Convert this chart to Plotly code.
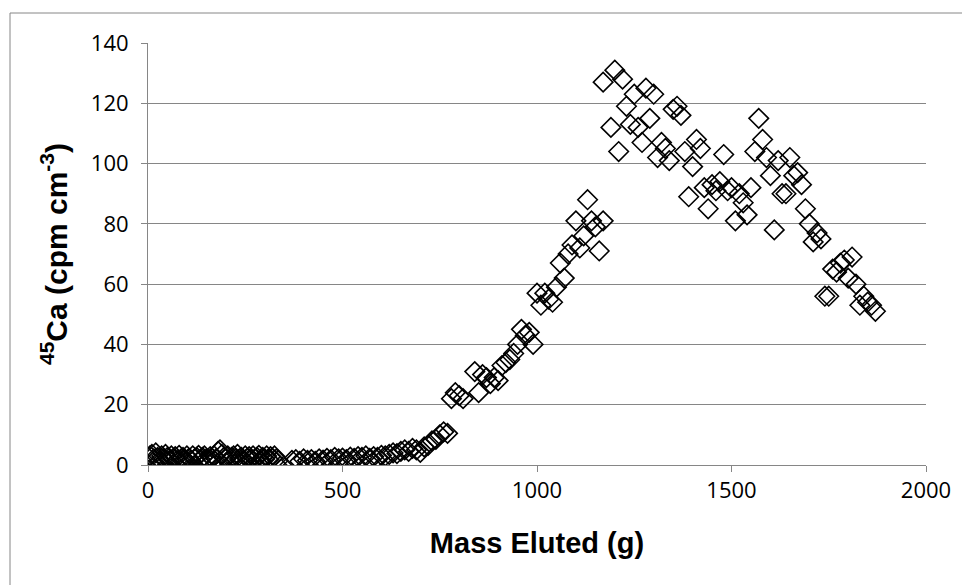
import plotly.graph_objects as go

# Mass eluted (g)
mass_low = [0, 5, 10, 15, 20, 25, 30, 35, 40, 45, 50, 55, 60, 65, 70, 75, 80, 85, 90, 95,
            100, 105, 110, 115, 120, 125, 130, 135, 140, 145, 150, 155, 160, 165, 170, 175,
            180, 185, 190, 195, 200, 205, 210, 215, 220, 225, 230, 235, 240, 245, 250, 255,
            260, 265, 270, 275, 280, 285, 290, 295, 300, 305, 310, 315, 320, 325, 330, 335]
ca_low = [2.5, 3.0, 3.5, 2.0, 4.0, 2.5, 1.5, 3.0, 2.0, 3.5, 2.5, 1.5, 3.0, 2.0, 2.8, 1.5, 3.2, 2.0, 2.5, 1.8,
          3.0, 2.2, 1.5, 3.0, 2.0, 2.5, 3.2, 1.8, 2.5, 3.0, 2.0, 1.5, 2.8, 2.2, 3.0, 2.0,
          4.5, 5.0, 3.5, 2.5, 2.0, 3.0, 1.5, 2.5, 3.0, 2.0, 3.5, 2.0, 2.5, 1.5, 3.0, 2.2,
          2.8, 1.8, 3.0, 2.0, 2.5, 3.2, 1.5, 2.5, 2.0, 3.0, 1.8, 2.8, 2.2, 3.0, 2.0, 1.5]

mass_mid = [370, 380, 390, 400, 410, 420, 430, 440, 450, 460, 470, 480, 490, 500, 510, 520,
            530, 540, 550, 560, 570, 580, 590, 600, 610, 620, 630, 640, 650, 660, 670, 680,
            690, 700, 710, 720, 730, 740, 750, 760, 770]
ca_mid = [1.5, 1.8, 1.2, 2.0, 1.5, 1.8, 1.2, 2.0, 1.6, 2.2, 1.8, 2.5, 2.0, 2.3, 1.8, 2.6,
          2.2, 2.8, 2.5, 3.0, 2.2, 2.8, 2.5, 3.2, 3.0, 3.5, 4.0, 3.8, 4.5, 5.0, 4.5, 5.5,
          5.0, 4.2, 6.0, 6.5, 8.0, 8.5, 10.0, 11.0, 10.5]

mass_rise = [780, 790, 800, 810, 840, 850, 860, 870, 880, 890, 900, 910, 920, 930, 940, 950,
             960, 970, 980, 990, 1000, 1010, 1020, 1030, 1040, 1050, 1060, 1070, 1080, 1090,
             1100, 1110, 1120, 1130, 1140, 1150, 1160, 1170]
ca_rise = [22, 24, 23, 22, 31, 24, 30, 29, 27, 29, 28, 33, 34, 35, 37, 40,
           45, 43, 44, 40, 57, 53, 57, 55, 54, 59, 67, 62, 70, 73,
           81, 72, 76, 88, 81, 79, 71, 81]

mass_peak = [1170, 1190, 1200, 1210, 1220, 1230, 1240, 1250, 1260, 1270, 1280, 1290, 1300,
             1310, 1320, 1330, 1340, 1350, 1360, 1370, 1380, 1390, 1400, 1410, 1420, 1430,
             1440, 1450, 1460, 1470, 1480, 1490, 1500, 1510, 1520, 1530, 1540, 1550, 1560,
             1570, 1580, 1590, 1600, 1610, 1620, 1630, 1640, 1650, 1660, 1670, 1680, 1690,
             1700, 1710, 1720, 1730, 1740, 1750, 1760, 1770, 1780, 1790, 1800, 1810, 1820,
             1830, 1840, 1850, 1860, 1870]
ca_peak = [127, 112, 131, 104, 128, 119, 113, 123, 112, 107, 125, 115, 123,
           102, 107, 105, 101, 118, 119, 116, 104, 89, 99, 108, 105, 92,
           85, 93, 91, 94, 103, 91, 92, 81, 90, 87, 83, 92, 104,
           115, 108, 102, 96, 78, 101, 90, 90, 102, 96, 97, 93, 85,
           80, 74, 77, 75, 56, 56, 65, 64, 67, 68, 62, 69, 60,
           53, 56, 54, 53, 51]

mass = mass_low + mass_mid + mass_rise + mass_peak
ca45 = ca_low + ca_mid + ca_rise + ca_peak

x_ticks = [0, 500, 1000, 1500, 2000]
y_ticks = [0, 20, 40, 60, 80, 100, 120, 140]

TICK_FONT = "'Open Sans', Lato, Arial, sans-serif"
TITLE_FONT = "'Liberation Sans', Arial, sans-serif"
GRID = "#868686"

# page body has an ~8px default margin, so the figure is sized/offset to compensate
W, H = 962, 577
L, T = 140, 35
PW, PH = 778, 422

fig = go.Figure(go.Scatter(
    x=mass, y=ca45, mode="markers",
    marker=dict(symbol="diamond-open", size=15, color="black", line=dict(width=1.6, color="black")),
    showlegend=False,
))

fig.update_layout(
    width=W, height=H,
    margin=dict(l=L, r=W - L - PW, t=T, b=H - T - PH, autoexpand=False),
    paper_bgcolor="white", plot_bgcolor="white",
    font=dict(family=TICK_FONT, size=22, color="black"),
    xaxis=dict(
        range=[0, 2000], tickvals=x_ticks, ticktext=[str(v) for v in x_ticks],
        showgrid=False, zeroline=False, showline=True, linecolor=GRID, linewidth=1,
        ticks="outside", ticklen=6, tickcolor=GRID,
        tickfont=dict(family=TICK_FONT, size=22),
        title=dict(text="<b>Mass Eluted (g)</b>", font=dict(size=29, family=TITLE_FONT), standoff=29),
    ),
    yaxis=dict(
        range=[0, 140], tickvals=y_ticks, ticktext=[str(v) for v in y_ticks],
        showgrid=True, gridcolor=GRID, gridwidth=1, zeroline=False,
        showline=True, linecolor=GRID, linewidth=1,
        ticks="outside", ticklen=6, tickcolor=GRID, ticklabelstandoff=8,
        tickfont=dict(family=TICK_FONT, size=22),
        title=dict(text="<b><sup>45</sup>Ca (cpm cm<sup>-3</sup>)</b>", font=dict(size=30, family=TITLE_FONT), standoff=14),
    ),
    shapes=[dict(type="rect", xref="paper", yref="paper",
                 x0=(2 - L) / PW, x1=(956 - L) / PW,
                 y0=(T + PH - 590) / PH, y1=(T + PH - 5) / PH,
                 line=dict(color="#868686", width=1), fillcolor="rgba(0,0,0,0)", layer="below")],
)

fig.write_html("out.html")
